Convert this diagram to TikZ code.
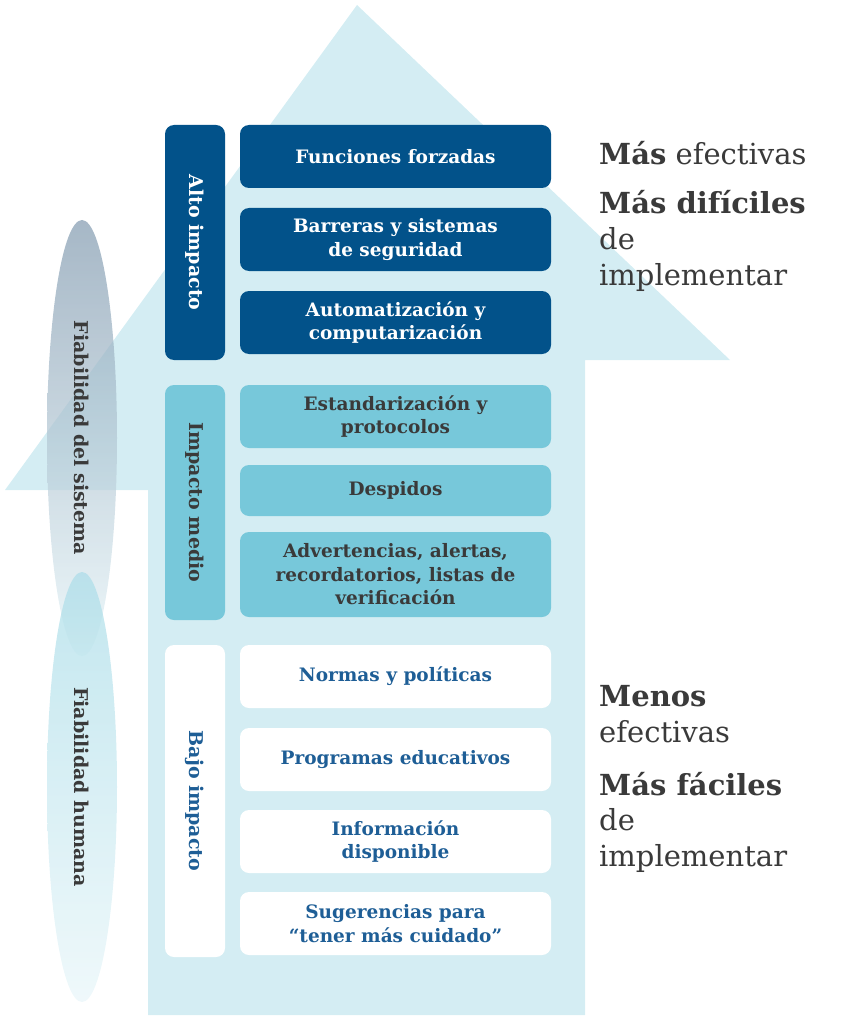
\documentclass[tikz,border=0pt]{standalone}
\usepackage{fontspec}
\setmainfont{DejaVu Serif}
\usetikzlibrary{shadings}
\definecolor{dkb}{HTML}{02528A}
\definecolor{mdb}{HTML}{77C8DA}
\definecolor{lgb}{HTML}{D4EDF3}
\definecolor{txt}{HTML}{3A3A3A}
\definecolor{lowt}{HTML}{1E5E96}
\begin{document}
\begin{tikzpicture}[x=1pt,y=-1pt,
 item/.style={rounded corners=9pt,minimum width=311pt,align=center,font=\bfseries\fontsize{18.5}{23.5}\selectfont,inner sep=0pt},
 hi/.style={item,fill=dkb,text=white},
 mid/.style={item,fill=mdb,text=txt},
 low/.style={item,fill=white,text=lowt},
 grp/.style={rounded corners=9pt,minimum width=60pt,inner sep=0pt},
 glab/.style={rotate=-90,font=\bfseries\fontsize{19}{22}\selectfont},
 big/.style={anchor=base west,font=\fontsize{29}{33}\selectfont,text=txt,inner sep=0pt}]
\useasboundingbox (0,0) rectangle (843,1024);
\fill[lgb] (357,5) -- (730,360) -- (585,360) -- (585,1015) -- (148,1015) -- (148,490) -- (5,490) -- cycle;
\shade[top color=lowt!55!gray!70,bottom color=lgb!60!white,opacity=0.7] (82,438) ellipse [x radius=35,y radius=218];
\shade[top color=mdb!60,bottom color=lgb!50,opacity=0.75] (82,787) ellipse [x radius=35,y radius=215];
\node[glab,text=txt] (fs) at (82,438) {Fiabilidad del sistema};
\node[glab,text=txt] (fh) at (82,787) {Fiabilidad humana};
% groups
\node[grp,fill=dkb,minimum height=235pt] (ga) at (195,242.5) {};
\node[glab,text=white] at (ga) {Alto impacto};
\node[grp,fill=mdb,minimum height=235pt] (gm) at (195,502.5) {};
\node[glab,text=txt] at (gm) {Impacto medio};
\node[grp,fill=white,minimum height=312pt] (gb) at (195,801) {};
\node[glab,text=lowt] at (gb) {Bajo impacto};
% items
\node[hi,minimum height=63pt] (a1) at (395.5,156.5) {Funciones forzadas};
\node[hi,minimum height=63pt] (a2) at (395.5,239.5) {Barreras y sistemas\\de seguridad};
\node[hi,minimum height=63pt] (a3) at (395.5,322.5) {Automatización y\\computarización};
\node[mid,minimum height=63pt] (m1) at (395.5,416.5) {Estandarización y\\protocolos};
\node[mid,minimum height=51pt] (m2) at (395.5,490.5) {Despidos};
\node[mid,minimum height=85pt] (m3) at (395.5,574.5) {Advertencias, alertas,\\recordatorios, listas de\\verificación};
\node[low,minimum height=63pt] (b1) at (395.5,676.5) {Normas y políticas};
\node[low,minimum height=63pt] (b2) at (395.5,759.5) {Programas educativos};
\node[low,minimum height=63pt] (b3) at (395.5,841.5) {Información\\disponible};
\node[low,minimum height=63pt] (b4) at (395.5,923.5) {Sugerencias para\\“tener más cuidado”};
% right texts
\node[big] (t1) at (599,165) {\textbf{Más} efectivas};
\node[big] (t2) at (599,214) {\textbf{Más difíciles}};
\node[big] (t3) at (599,249) {de};
\node[big] (t4) at (599,285) {implementar};
\node[big] (t5) at (599,706) {\textbf{Menos}};
\node[big] (t6) at (599,742) {efectivas};
\node[big] (t7) at (599,795) {\textbf{Más fáciles}};
\node[big] (t8) at (599,830) {de};
\node[big] (t9) at (599,866) {implementar};
\end{tikzpicture}
\end{document}
